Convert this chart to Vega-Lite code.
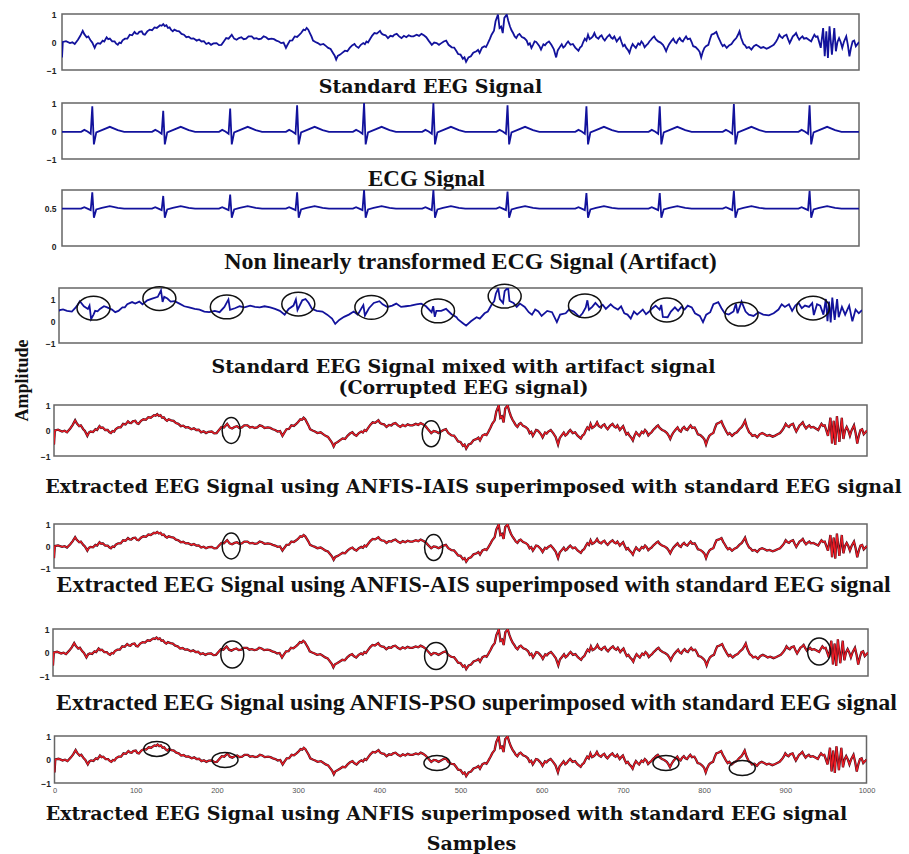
{
"$schema": "https://vega.github.io/schema/vega-lite/v6.json",
"background": "white",
"padding": {"left": 12, "top": 9, "right": 2, "bottom": 0},
"autosize": {"type": "pad"},
"bounds": "flush",
"spacing": 0,
"center": true,
"config": {
  "view": {"stroke": "#666", "strokeWidth": 1.5},
  "axis": {"grid": false, "domain": false, "ticks": false},
  "axisY": {"labelFont": "Liberation Sans", "labelFontWeight": "bold", "labelFontSize": 8.5, "labelColor": "#222", "labelPadding": 4},
  "axisX": {"labelFont": "Liberation Sans", "labelFontSize": 7.5, "labelColor": "#555", "labelPadding": 3, "labelFlush": false}
},
"datasets": {
"eeg": [{"s":0,"v":-0.55},{"s":1,"v":0},{"s":5,"v":0.03},{"s":10,"v":-0.04},{"s":13,"v":-0.01},{"s":16,"v":-0.07},{"s":20,"v":0.08},{"s":23,"v":0.22},{"s":26,"v":0.40},{"s":28,"v":0.28},{"s":31,"v":0.17},{"s":33,"v":0.2},{"s":36,"v":0.05},{"s":38,"v":-0.02},{"s":41,"v":-0.21},{"s":43,"v":-0.08},{"s":45,"v":-0.04},{"s":48,"v":-0.06},{"s":51,"v":0.05},{"s":53,"v":0.02},{"s":56,"v":0.17},{"s":58,"v":0.1},{"s":60,"v":0.12},{"s":63,"v":0.02},{"s":66,"v":0.02},{"s":68,"v":-0.06},{"s":70,"v":-0.10},{"s":72,"v":-0.02},{"s":74,"v":-0.04},{"s":76,"v":0.06},{"s":79,"v":0.12},{"s":82,"v":0.12},{"s":85,"v":0.26},{"s":88,"v":0.24},{"s":91,"v":0.36},{"s":93,"v":0.3},{"s":95,"v":0.29},{"s":97,"v":0.36},{"s":100,"v":0.38},{"s":102,"v":0.28},{"s":104,"v":0.26},{"s":107,"v":0.38},{"s":110,"v":0.44},{"s":113,"v":0.42},{"s":116,"v":0.52},{"s":119,"v":0.5},{"s":123,"v":0.60},{"s":125,"v":0.58},{"s":127,"v":0.64},{"s":129,"v":0.57},{"s":131,"v":0.60},{"s":133,"v":0.5},{"s":135,"v":0.52},{"s":137,"v":0.43},{"s":139,"v":0.38},{"s":141,"v":0.44},{"s":144,"v":0.40},{"s":147,"v":0.38},{"s":150,"v":0.29},{"s":153,"v":0.26},{"s":156,"v":0.17},{"s":159,"v":0.19},{"s":162,"v":0.12},{"s":165,"v":0.13},{"s":169,"v":0.05},{"s":172,"v":0.09},{"s":175,"v":0.02},{"s":178,"v":0.03},{"s":181,"v":-0.07},{"s":184,"v":-0.03},{"s":187,"v":-0.10},{"s":190,"v":-0.05},{"s":194,"v":-0.04},{"s":197,"v":-0.11},{"s":200,"v":-0.10},{"s":203,"v":0.02},{"s":206,"v":0.14},{"s":209,"v":0.12},{"s":213,"v":0.26},{"s":216,"v":0.12},{"s":219,"v":0.08},{"s":222,"v":0.14},{"s":225,"v":0.17},{"s":228,"v":0.1},{"s":231,"v":0.12},{"s":234,"v":0.2},{"s":238,"v":0.20},{"s":241,"v":0.12},{"s":244,"v":0.14},{"s":247,"v":0.1},{"s":250,"v":0.12},{"s":253,"v":0.2},{"s":256,"v":0.17},{"s":259,"v":0.1},{"s":263,"v":0.12},{"s":266,"v":0.1},{"s":269,"v":0.05},{"s":272,"v":0.02},{"s":275,"v":-0.04},{"s":278,"v":-0.02},{"s":281,"v":-0.21},{"s":283,"v":-0.1},{"s":286,"v":0.05},{"s":289,"v":0.06},{"s":292,"v":0.20},{"s":295,"v":0.18},{"s":298,"v":0.26},{"s":300,"v":0.32},{"s":303,"v":0.44},{"s":305,"v":0.42},{"s":307,"v":0.50},{"s":309,"v":0.44},{"s":311,"v":0.32},{"s":313,"v":0.2},{"s":315,"v":0.05},{"s":318,"v":0.0},{"s":321,"v":-0.04},{"s":324,"v":-0.1},{"s":328,"v":-0.07},{"s":331,"v":-0.14},{"s":334,"v":-0.21},{"s":337,"v":-0.25},{"s":340,"v":-0.39},{"s":342,"v":-0.48},{"s":344,"v":-0.63},{"s":346,"v":-0.5},{"s":349,"v":-0.45},{"s":352,"v":-0.38},{"s":355,"v":-0.31},{"s":358,"v":-0.33},{"s":361,"v":-0.21},{"s":364,"v":-0.12},{"s":367,"v":-0.07},{"s":369,"v":-0.15},{"s":372,"v":-0.21},{"s":375,"v":-0.1},{"s":378,"v":-0.04},{"s":380,"v":-0.08},{"s":382,"v":0.02},{"s":384,"v":-0.02},{"s":386,"v":0.08},{"s":389,"v":0.22},{"s":392,"v":0.32},{"s":395,"v":0.3},{"s":399,"v":0.40},{"s":401,"v":0.3},{"s":403,"v":0.26},{"s":406,"v":0.24},{"s":409,"v":0.14},{"s":412,"v":0.22},{"s":415,"v":0.20},{"s":417,"v":0.26},{"s":420,"v":0.29},{"s":423,"v":0.2},{"s":426,"v":0.14},{"s":429,"v":0.22},{"s":432,"v":0.17},{"s":435,"v":0.24},{"s":438,"v":0.20},{"s":441,"v":0.2},{"s":445,"v":0.26},{"s":448,"v":0.22},{"s":451,"v":0.29},{"s":454,"v":0.24},{"s":457,"v":0.17},{"s":460,"v":0.05},{"s":464,"v":-0.10},{"s":467,"v":-0.02},{"s":470,"v":-0.04},{"s":473,"v":-0.1},{"s":476,"v":-0.04},{"s":479,"v":0.02},{"s":482,"v":0.05},{"s":485,"v":-0.1},{"s":489,"v":-0.19},{"s":492,"v":-0.2},{"s":495,"v":-0.33},{"s":497,"v":-0.43},{"s":500,"v":-0.45},{"s":503,"v":-0.60},{"s":505,"v":-0.55},{"s":507,"v":-0.71},{"s":510,"v":-0.55},{"s":513,"v":-0.51},{"s":516,"v":-0.38},{"s":520,"v":-0.33},{"s":522,"v":-0.28},{"s":524,"v":-0.39},{"s":527,"v":-0.2},{"s":530,"v":-0.15},{"s":532,"v":-0.18},{"s":534,"v":-0.07},{"s":537,"v":0.12},{"s":539,"v":0.26},{"s":542,"v":0.40},{"s":544,"v":0.74},{"s":547,"v":0.98},{"s":549,"v":0.50},{"s":551,"v":0.55},{"s":553,"v":0.32},{"s":555,"v":0.86},{"s":558,"v":0.98},{"s":560,"v":0.75},{"s":562,"v":0.56},{"s":564,"v":0.42},{"s":566,"v":0.32},{"s":568,"v":0.2},{"s":570,"v":0.14},{"s":572,"v":0.25},{"s":574,"v":0.29},{"s":577,"v":0.18},{"s":580,"v":0.14},{"s":583,"v":0.05},{"s":585,"v":-0.10},{"s":587,"v":-0.05},{"s":589,"v":-0.21},{"s":591,"v":-0.1},{"s":593,"v":0.02},{"s":595,"v":0.0},{"s":597,"v":-0.07},{"s":599,"v":-0.15},{"s":601,"v":-0.27},{"s":604,"v":-0.08},{"s":606,"v":-0.12},{"s":608,"v":-0.04},{"s":611,"v":0.02},{"s":614,"v":-0.10},{"s":617,"v":-0.25},{"s":620,"v":-0.55},{"s":622,"v":-0.3},{"s":624,"v":-0.21},{"s":627,"v":-0.08},{"s":629,"v":-0.2},{"s":631,"v":-0.15},{"s":633,"v":-0.05},{"s":635,"v":0.02},{"s":638,"v":-0.1},{"s":641,"v":-0.07},{"s":644,"v":-0.2},{"s":648,"v":-0.31},{"s":650,"v":-0.2},{"s":652,"v":-0.15},{"s":654,"v":0.0},{"s":656,"v":0.12},{"s":658,"v":0.05},{"s":660,"v":0.26},{"s":662,"v":0.1},{"s":664,"v":0.14},{"s":666,"v":0.2},{"s":668,"v":0.32},{"s":670,"v":0.18},{"s":673,"v":0.12},{"s":675,"v":0.2},{"s":677,"v":0.24},{"s":679,"v":0.12},{"s":681,"v":0.05},{"s":684,"v":0.18},{"s":687,"v":0.26},{"s":689,"v":0.16},{"s":691,"v":0.12},{"s":693,"v":0.2},{"s":696,"v":0.02},{"s":698,"v":0.1},{"s":700,"v":0.17},{"s":702,"v":0.0},{"s":704,"v":-0.15},{"s":706,"v":-0.1},{"s":708,"v":-0.21},{"s":710,"v":-0.28},{"s":712,"v":-0.39},{"s":714,"v":-0.2},{"s":716,"v":-0.07},{"s":718,"v":-0.15},{"s":720,"v":-0.21},{"s":723,"v":-0.05},{"s":725,"v":-0.1},{"s":727,"v":0.02},{"s":729,"v":-0.05},{"s":731,"v":-0.19},{"s":733,"v":-0.12},{"s":735,"v":-0.07},{"s":737,"v":0.02},{"s":739,"v":0.08},{"s":741,"v":0.15},{"s":743,"v":0.20},{"s":745,"v":0.1},{"s":748,"v":0.02},{"s":751,"v":-0.02},{"s":754,"v":-0.10},{"s":756,"v":-0.2},{"s":758,"v":-0.33},{"s":760,"v":-0.18},{"s":762,"v":-0.07},{"s":765,"v":0.05},{"s":767,"v":0.12},{"s":769,"v":0.0},{"s":771,"v":-0.04},{"s":773,"v":0.08},{"s":775,"v":0.14},{"s":777,"v":0.05},{"s":779,"v":0.02},{"s":781,"v":0.12},{"s":783,"v":0.20},{"s":785,"v":0.1},{"s":788,"v":0.12},{"s":790,"v":0.0},{"s":792,"v":-0.15},{"s":795,"v":-0.18},{"s":798,"v":-0.27},{"s":800,"v":-0.35},{"s":802,"v":-0.55},{"s":804,"v":-0.35},{"s":806,"v":-0.21},{"s":808,"v":-0.15},{"s":811,"v":-0.10},{"s":813,"v":0.1},{"s":815,"v":0.26},{"s":818,"v":0.3},{"s":821,"v":0.36},{"s":823,"v":0.2},{"s":825,"v":0.08},{"s":827,"v":-0.05},{"s":829,"v":-0.15},{"s":831,"v":-0.1},{"s":834,"v":-0.21},{"s":837,"v":-0.12},{"s":840,"v":-0.07},{"s":843,"v":0.05},{"s":846,"v":0.14},{"s":848,"v":0.25},{"s":850,"v":0.38},{"s":852,"v":0.15},{"s":855,"v":-0.07},{"s":857,"v":-0.12},{"s":859,"v":-0.21},{"s":862,"v":-0.18},{"s":865,"v":-0.27},{"s":868,"v":-0.15},{"s":871,"v":-0.10},{"s":874,"v":-0.15},{"s":877,"v":-0.21},{"s":880,"v":-0.18},{"s":884,"v":-0.24},{"s":887,"v":-0.2},{"s":890,"v":-0.15},{"s":893,"v":-0.1},{"s":896,"v":0.02},{"s":898,"v":0.12},{"s":900,"v":0.26},{"s":902,"v":0.18},{"s":904,"v":0.14},{"s":906,"v":0.22},{"s":909,"v":0.26},{"s":911,"v":0.1},{"s":913,"v":-0.04},{"s":915,"v":0.08},{"s":917,"v":0.20},{"s":919,"v":0.25},{"s":921,"v":0.32},{"s":923,"v":0.18},{"s":925,"v":0.08},{"s":927,"v":0.15},{"s":929,"v":0.20},{"s":931,"v":0.12},{"s":934,"v":0.14},{"s":937,"v":0.08},{"s":940,"v":0.02},{"s":942,"v":0.15},{"s":944,"v":0.26},{"s":946,"v":0.18},{"s":948,"v":0.20},{"s":950,"v":0.0},{"s":952,"v":-0.21},{"s":955,"v":0.50},{"s":957,"v":-0.51},{"s":959,"v":0.38},{"s":961,"v":-0.57},{"s":963,"v":0.56},{"s":966,"v":-0.45},{"s":969,"v":0.50},{"s":971,"v":-0.33},{"s":973,"v":0.0},{"s":975,"v":0.14},{"s":977,"v":0.0},{"s":979,"v":-0.21},{"s":981,"v":0.0},{"s":984,"v":0.20},{"s":986,"v":-0.1},{"s":988,"v":-0.51},{"s":990,"v":-0.2},{"s":992,"v":0.02},{"s":994,"v":0.05},{"s":996,"v":-0.15},{"s":999,"v":-0.04},{"s":1000,"v":0.0}],
"cor": [{"s":0,"v":0.45},{"s":1,"v":0.50},{"s":5,"v":0.53},{"s":10,"v":0.46},{"s":16,"v":0.43},{"s":20,"v":0.58},{"s":23,"v":0.72},{"s":26,"v":0.90},{"s":31,"v":0.67},{"s":36,"v":0.55},{"s":38,"v":0.70},{"s":40,"v":0.09},{"s":43,"v":0.29},{"s":45,"v":0.46},{"s":48,"v":0.44},{"s":51,"v":0.55},{"s":56,"v":0.67},{"s":60,"v":0.62},{"s":66,"v":0.52},{"s":70,"v":0.40},{"s":74,"v":0.46},{"s":79,"v":0.62},{"s":82,"v":0.62},{"s":85,"v":0.76},{"s":91,"v":0.86},{"s":95,"v":0.79},{"s":100,"v":0.88},{"s":104,"v":0.76},{"s":110,"v":0.94},{"s":116,"v":1.02},{"s":123,"v":1.10},{"s":127,"v":1.39},{"s":129,"v":0.87},{"s":131,"v":1.10},{"s":135,"v":1.02},{"s":139,"v":0.88},{"s":144,"v":0.90},{"s":150,"v":0.79},{"s":156,"v":0.67},{"s":162,"v":0.62},{"s":169,"v":0.55},{"s":175,"v":0.52},{"s":181,"v":0.43},{"s":187,"v":0.40},{"s":194,"v":0.46},{"s":200,"v":0.40},{"s":206,"v":0.64},{"s":211,"v":0.98},{"s":213,"v":0.51},{"s":219,"v":0.58},{"s":225,"v":0.67},{"s":231,"v":0.62},{"s":238,"v":0.70},{"s":244,"v":0.64},{"s":250,"v":0.62},{"s":256,"v":0.67},{"s":263,"v":0.62},{"s":269,"v":0.55},{"s":275,"v":0.46},{"s":281,"v":0.29},{"s":286,"v":0.55},{"s":292,"v":0.70},{"s":295,"v":0.98},{"s":297,"v":0.50},{"s":303,"v":0.94},{"s":307,"v":1.00},{"s":311,"v":0.82},{"s":315,"v":0.55},{"s":321,"v":0.46},{"s":328,"v":0.43},{"s":334,"v":0.29},{"s":340,"v":0.11},{"s":344,"v":-0.13},{"s":349,"v":0.05},{"s":355,"v":0.19},{"s":361,"v":0.29},{"s":367,"v":0.43},{"s":372,"v":0.29},{"s":379,"v":0.72},{"s":381,"v":0.25},{"s":386,"v":0.58},{"s":392,"v":0.82},{"s":399,"v":0.90},{"s":403,"v":0.76},{"s":409,"v":0.64},{"s":415,"v":0.70},{"s":420,"v":0.79},{"s":426,"v":0.64},{"s":432,"v":0.67},{"s":438,"v":0.70},{"s":445,"v":0.76},{"s":451,"v":0.79},{"s":457,"v":0.67},{"s":464,"v":0.40},{"s":466,"v":0.67},{"s":468,"v":0.19},{"s":470,"v":0.46},{"s":476,"v":0.46},{"s":482,"v":0.55},{"s":489,"v":0.31},{"s":495,"v":0.17},{"s":497,"v":0.07},{"s":503,"v":-0.10},{"s":507,"v":-0.21},{"s":513,"v":-0.01},{"s":520,"v":0.17},{"s":524,"v":0.11},{"s":530,"v":0.35},{"s":534,"v":0.43},{"s":539,"v":0.76},{"s":542,"v":0.90},{"s":544,"v":1.24},{"s":547,"v":1.48},{"s":549,"v":1.00},{"s":553,"v":0.82},{"s":555,"v":1.36},{"s":558,"v":1.48},{"s":559,"v":1.62},{"s":561,"v":0.91},{"s":566,"v":0.82},{"s":570,"v":0.64},{"s":574,"v":0.79},{"s":580,"v":0.64},{"s":585,"v":0.40},{"s":589,"v":0.29},{"s":593,"v":0.52},{"s":597,"v":0.43},{"s":601,"v":0.23},{"s":608,"v":0.46},{"s":614,"v":0.40},{"s":620,"v":-0.05},{"s":624,"v":0.29},{"s":631,"v":0.35},{"s":635,"v":0.52},{"s":641,"v":0.43},{"s":648,"v":0.19},{"s":652,"v":0.35},{"s":656,"v":0.62},{"s":658,"v":0.94},{"s":660,"v":0.51},{"s":664,"v":0.64},{"s":668,"v":0.82},{"s":673,"v":0.62},{"s":677,"v":0.74},{"s":681,"v":0.55},{"s":687,"v":0.76},{"s":691,"v":0.62},{"s":696,"v":0.52},{"s":700,"v":0.67},{"s":704,"v":0.35},{"s":708,"v":0.29},{"s":712,"v":0.11},{"s":716,"v":0.43},{"s":720,"v":0.29},{"s":727,"v":0.52},{"s":731,"v":0.31},{"s":735,"v":0.43},{"s":739,"v":0.58},{"s":743,"v":0.70},{"s":748,"v":0.52},{"s":750,"v":0.73},{"s":752,"v":0.19},{"s":758,"v":0.17},{"s":762,"v":0.43},{"s":767,"v":0.62},{"s":771,"v":0.46},{"s":775,"v":0.64},{"s":779,"v":0.52},{"s":783,"v":0.70},{"s":788,"v":0.62},{"s":792,"v":0.35},{"s":798,"v":0.23},{"s":802,"v":-0.05},{"s":806,"v":0.29},{"s":811,"v":0.40},{"s":815,"v":0.76},{"s":821,"v":0.86},{"s":825,"v":0.58},{"s":829,"v":0.35},{"s":834,"v":0.29},{"s":840,"v":0.43},{"s":843,"v":0.79},{"s":845,"v":0.35},{"s":850,"v":0.88},{"s":855,"v":0.43},{"s":859,"v":0.29},{"s":865,"v":0.23},{"s":871,"v":0.40},{"s":877,"v":0.29},{"s":884,"v":0.26},{"s":890,"v":0.35},{"s":896,"v":0.52},{"s":900,"v":0.76},{"s":904,"v":0.64},{"s":909,"v":0.76},{"s":913,"v":0.46},{"s":917,"v":0.70},{"s":921,"v":0.82},{"s":925,"v":0.58},{"s":929,"v":0.70},{"s":934,"v":0.64},{"s":938,"v":0.81},{"s":940,"v":0.27},{"s":944,"v":0.76},{"s":948,"v":0.70},{"s":952,"v":0.29},{"s":955,"v":1.00},{"s":957,"v":-0.01},{"s":959,"v":0.88},{"s":961,"v":-0.07},{"s":963,"v":1.06},{"s":966,"v":0.05},{"s":969,"v":1.00},{"s":971,"v":0.17},{"s":975,"v":0.64},{"s":979,"v":0.29},{"s":984,"v":0.70},{"s":988,"v":-0.01},{"s":992,"v":0.52},{"s":996,"v":0.35},{"s":999,"v":0.46},{"s":1000,"v":0.50}],
"ecg": [{"s":0,"e":-0.03,"a":0.5},
{"s":24,"e":-0.03,"a":0.5},{"s":28,"e":0.04,"a":0.52},{"s":32,"e":-0.02,"a":0.5},{"s":36,"e":-0.1,"a":0.48},{"s":38,"e":0.88,"a":0.72},{"s":40,"e":-0.48,"a":0.38},{"s":43,"e":-0.05,"a":0.49},{"s":50,"e":0.03,"a":0.51},{"s":60,"e":0.15,"a":0.535},{"s":70,"e":0.03,"a":0.51},{"s":78,"e":-0.03,"a":0.5},
{"s":113,"e":-0.03,"a":0.5},{"s":117,"e":0.04,"a":0.52},{"s":121,"e":-0.02,"a":0.5},{"s":125,"e":-0.1,"a":0.48},{"s":127,"e":0.72,"a":0.67},{"s":129,"e":-0.48,"a":0.38},{"s":132,"e":-0.05,"a":0.49},{"s":139,"e":0.03,"a":0.51},{"s":149,"e":0.15,"a":0.535},{"s":159,"e":0.03,"a":0.51},{"s":167,"e":-0.03,"a":0.5},
{"s":197,"e":-0.03,"a":0.5},{"s":201,"e":0.04,"a":0.52},{"s":205,"e":-0.02,"a":0.5},{"s":209,"e":-0.1,"a":0.48},{"s":211,"e":0.80,"a":0.69},{"s":213,"e":-0.48,"a":0.38},{"s":216,"e":-0.05,"a":0.49},{"s":223,"e":0.03,"a":0.51},{"s":233,"e":0.15,"a":0.535},{"s":243,"e":0.03,"a":0.51},{"s":251,"e":-0.03,"a":0.5},
{"s":281,"e":-0.03,"a":0.5},{"s":285,"e":0.04,"a":0.52},{"s":289,"e":-0.02,"a":0.5},{"s":293,"e":-0.1,"a":0.48},{"s":295,"e":0.92,"a":0.72},{"s":297,"e":-0.48,"a":0.38},{"s":300,"e":-0.05,"a":0.49},{"s":307,"e":0.03,"a":0.51},{"s":317,"e":0.15,"a":0.535},{"s":327,"e":0.03,"a":0.51},{"s":335,"e":-0.03,"a":0.5},
{"s":365,"e":-0.03,"a":0.5},{"s":369,"e":0.04,"a":0.52},{"s":373,"e":-0.02,"a":0.5},{"s":377,"e":-0.1,"a":0.48},{"s":379,"e":1.0,"a":0.75},{"s":381,"e":-0.48,"a":0.38},{"s":384,"e":-0.05,"a":0.49},{"s":391,"e":0.03,"a":0.51},{"s":401,"e":0.15,"a":0.535},{"s":411,"e":0.03,"a":0.51},{"s":419,"e":-0.03,"a":0.5},
{"s":452,"e":-0.03,"a":0.5},{"s":456,"e":0.04,"a":0.52},{"s":460,"e":-0.02,"a":0.5},{"s":464,"e":-0.1,"a":0.48},{"s":466,"e":1.0,"a":0.75},{"s":468,"e":-0.48,"a":0.38},{"s":471,"e":-0.05,"a":0.49},{"s":478,"e":0.03,"a":0.51},{"s":488,"e":0.15,"a":0.535},{"s":498,"e":0.03,"a":0.51},{"s":506,"e":-0.03,"a":0.5},
{"s":545,"e":-0.03,"a":0.5},{"s":549,"e":0.04,"a":0.52},{"s":553,"e":-0.02,"a":0.5},{"s":557,"e":-0.1,"a":0.48},{"s":559,"e":0.92,"a":0.73},{"s":561,"e":-0.48,"a":0.38},{"s":564,"e":-0.05,"a":0.49},{"s":571,"e":0.03,"a":0.51},{"s":581,"e":0.15,"a":0.535},{"s":591,"e":0.03,"a":0.51},{"s":599,"e":-0.03,"a":0.5},
{"s":644,"e":-0.03,"a":0.5},{"s":648,"e":0.04,"a":0.52},{"s":652,"e":-0.02,"a":0.5},{"s":656,"e":-0.1,"a":0.48},{"s":658,"e":0.88,"a":0.71},{"s":660,"e":-0.48,"a":0.38},{"s":663,"e":-0.05,"a":0.49},{"s":670,"e":0.03,"a":0.51},{"s":680,"e":0.15,"a":0.535},{"s":690,"e":0.03,"a":0.51},{"s":698,"e":-0.03,"a":0.5},
{"s":736,"e":-0.03,"a":0.5},{"s":740,"e":0.04,"a":0.52},{"s":744,"e":-0.02,"a":0.5},{"s":748,"e":-0.1,"a":0.48},{"s":750,"e":0.88,"a":0.71},{"s":752,"e":-0.48,"a":0.38},{"s":755,"e":-0.05,"a":0.49},{"s":762,"e":0.03,"a":0.51},{"s":772,"e":0.15,"a":0.535},{"s":782,"e":0.03,"a":0.51},{"s":790,"e":-0.03,"a":0.5},
{"s":829,"e":-0.03,"a":0.5},{"s":833,"e":0.04,"a":0.52},{"s":837,"e":-0.02,"a":0.5},{"s":841,"e":-0.1,"a":0.48},{"s":843,"e":0.96,"a":0.74},{"s":845,"e":-0.48,"a":0.38},{"s":848,"e":-0.05,"a":0.49},{"s":855,"e":0.03,"a":0.51},{"s":865,"e":0.15,"a":0.535},{"s":875,"e":0.03,"a":0.51},{"s":883,"e":-0.03,"a":0.5},
{"s":924,"e":-0.03,"a":0.5},{"s":928,"e":0.04,"a":0.52},{"s":932,"e":-0.02,"a":0.5},{"s":936,"e":-0.1,"a":0.48},{"s":938,"e":0.92,"a":0.74},{"s":940,"e":-0.48,"a":0.38},{"s":943,"e":-0.05,"a":0.49},{"s":950,"e":0.03,"a":0.51},{"s":960,"e":0.15,"a":0.535},{"s":970,"e":0.03,"a":0.51},{"s":978,"e":-0.03,"a":0.5},
{"s":1000,"e":-0.03,"a":0.5}],
"ell": [{"p":4,"s":43,"v":0.58},{"p":4,"s":125,"v":1.02},{"p":4,"s":209,"v":0.64},{"p":4,"s":298,"v":0.77},{"p":4,"s":389,"v":0.62},{"p":4,"s":472,"v":0.46},{"p":4,"s":555,"v":1.13},{"p":4,"s":655,"v":0.69},{"p":4,"s":757,"v":0.5},{"p":4,"s":850,"v":0.31},{"p":4,"s":939,"v":0.59},
{"p":5,"s":218,"v":0.0},{"p":5,"s":464,"v":-0.13},
{"p":6,"s":218,"v":0.0},{"p":6,"s":467,"v":-0.07},
{"p":7,"s":220,"v":-0.08},{"p":7,"s":470,"v":-0.15},{"p":7,"s":940,"v":0.04},
{"p":8,"s":126,"v":0.45},{"p":8,"s":210,"v":-0.02},{"p":8,"s":471,"v":-0.15},{"p":8,"s":753,"v":-0.15},{"p":8,"s":847,"v":-0.36}]
},
"vconcat": [
{"width": 797, "height": 56, "data": {"name": "eeg"},
 "mark": {"type": "line", "color": "#12129c", "strokeWidth": 1.8, "clip": true},
 "encoding": {"x": {"field": "s", "type": "quantitative", "scale": {"domain": [0, 1000], "nice": false}, "axis": null},
  "y": {"field": "v", "type": "quantitative", "scale": {"domain": [-1, 1], "nice": false}, "axis": {"values": [-1, 0, 1], "format": "~g", "title": null, "labelPadding": 6}}}},
{"width": 700, "height": 33, "view": {"stroke": null}, "data": {"values": [{"t": "Standard EEG Signal"}]},
 "mark": {"type": "text", "font": "DejaVu Serif", "fontWeight": "bold", "fontSize": 19, "color": "#111", "baseline": "middle", "align": "center", "dx": -30},
 "encoding": {"text": {"field": "t"}}},
{"width": 797, "height": 56, "data": {"name": "ecg"},
 "mark": {"type": "line", "color": "#12129c", "strokeWidth": 1.8, "clip": true},
 "encoding": {"x": {"field": "s", "type": "quantitative", "scale": {"domain": [0, 1000], "nice": false}, "axis": null},
  "y": {"field": "e", "type": "quantitative", "scale": {"domain": [-1, 1], "nice": false}, "axis": {"values": [-1, 0, 1], "format": "~g", "title": null, "labelPadding": 6}}}},
{"width": 700, "height": 31, "view": {"stroke": null}, "data": {"values": [{"t": "ECG Signal"}]},
 "mark": {"type": "text", "font": "Liberation Serif", "fontWeight": "bold", "fontSize": 23, "color": "#111", "baseline": "middle", "align": "center", "dx": -34, "dy": 4},
 "encoding": {"text": {"field": "t"}}},
{"width": 797, "height": 56, "data": {"name": "ecg"},
 "mark": {"type": "line", "color": "#12129c", "strokeWidth": 1.8, "clip": true},
 "encoding": {"x": {"field": "s", "type": "quantitative", "scale": {"domain": [0, 1000], "nice": false}, "axis": null},
  "y": {"field": "a", "type": "quantitative", "scale": {"domain": [0, 0.75], "nice": false}, "axis": {"values": [0, 0.5], "format": "~g", "title": null, "labelPadding": 6}}}},
{"width": 700, "height": 42, "view": {"stroke": null}, "data": {"values": [{"t": "Non linearly transformed ECG Signal (Artifact)"}]},
 "mark": {"type": "text", "font": "Liberation Serif", "fontWeight": "bold", "fontSize": 24, "color": "#111", "baseline": "middle", "align": "center", "dx": 10, "dy": -5},
 "encoding": {"text": {"field": "t"}}},
{"width": 803, "height": 55,
 "encoding": {"x": {"field": "s", "type": "quantitative", "scale": {"domain": [0, 1000], "nice": false}, "axis": null},
  "y": {"field": "v", "type": "quantitative", "scale": {"domain": [-1, 1.5], "nice": false}, "axis": {"values": [-1, 0, 1], "format": "~g", "title": "Amplitude", "titleX": -37, "titleY": 92, "titleAngle": -90, "titleAlign": "center", "titleBaseline": "middle", "titleFont": "Liberation Serif", "titleFontSize": 18, "titleFontWeight": "bold", "titleColor": "#111"}}},
 "layer": [
  {"data": {"name": "cor"}, "mark": {"type": "line", "color": "#12129c", "strokeWidth": 1.8, "clip": true}},
  {"data": {"name": "ell"}, "transform": [{"filter": "datum.p == 4"}], "mark": {"type": "point", "shape": "M-1,0A1,0.72,0,1,1,1,0A1,0.72,0,1,1,-1,0Z", "size": 1089, "filled": false, "color": "#111", "strokeWidth": 1.5, "opacity": 1}}
 ]},
{"width": 700, "height": 62, "view": {"stroke": null}, "data": {"values": [{"t": "Standard EEG Signal mixed with artifact signal\n(Corrupted EEG signal)"}]},
 "mark": {"type": "text", "font": "DejaVu Serif", "fontWeight": "bold", "fontSize": 19, "color": "#111", "baseline": "middle", "align": "center", "lineBreak": "\n", "lineHeight": 21, "dx": 3, "dy": -7},
 "encoding": {"text": {"field": "t"}}},
{"width": 813, "height": 51,
 "encoding": {"x": {"field": "s", "type": "quantitative", "scale": {"domain": [0, 1000], "nice": false}, "axis": null},
  "y": {"field": "v", "type": "quantitative", "scale": {"domain": [-1, 1], "nice": false}, "axis": {"values": [-1, 0, 1], "format": "~g", "title": null}}},
 "layer": [
  {"data": {"name": "eeg"}, "mark": {"type": "line", "color": "#3d0f1f", "strokeWidth": 2.3, "clip": true}},
  {"data": {"name": "eeg"}, "mark": {"type": "line", "color": "#ee1c24", "strokeWidth": 1.3, "clip": true}},
  {"data": {"name": "ell"}, "transform": [{"filter": "datum.p == 5"}], "mark": {"type": "point", "shape": "M-0.7,0A0.7,1,0,1,1,0.7,0A0.7,1,0,1,1,-0.7,0Z", "size": 676, "filled": false, "color": "#111", "strokeWidth": 1.5, "opacity": 1}}
 ]},
{"width": 700, "height": 68, "view": {"stroke": null}, "data": {"values": [{"t": "Extracted EEG Signal using ANFIS-IAIS superimposed with standard  EEG signal"}]},
 "mark": {"type": "text", "font": "DejaVu Serif", "fontWeight": "bold", "fontSize": 19, "color": "#111", "baseline": "middle", "align": "center", "dx": 13, "dy": -3},
 "encoding": {"text": {"field": "t"}}},
{"width": 813, "height": 44,
 "encoding": {"x": {"field": "s", "type": "quantitative", "scale": {"domain": [0, 1000], "nice": false}, "axis": null},
  "y": {"field": "v", "type": "quantitative", "scale": {"domain": [-1, 1], "nice": false}, "axis": {"values": [-1, 0, 1], "format": "~g", "title": null}}},
 "layer": [
  {"data": {"name": "eeg"}, "mark": {"type": "line", "color": "#3d0f1f", "strokeWidth": 2.3, "clip": true}},
  {"data": {"name": "eeg"}, "mark": {"type": "line", "color": "#ee1c24", "strokeWidth": 1.3, "clip": true}},
  {"data": {"name": "ell"}, "transform": [{"filter": "datum.p == 6"}], "mark": {"type": "point", "shape": "M-0.7,0A0.7,1,0,1,1,0.7,0A0.7,1,0,1,1,-0.7,0Z", "size": 676, "filled": false, "color": "#111", "strokeWidth": 1.5, "opacity": 1}}
 ]},
{"width": 700, "height": 61, "view": {"stroke": null}, "data": {"values": [{"t": "Extracted EEG Signal using ANFIS-AIS superimposed with standard  EEG signal"}]},
 "mark": {"type": "text", "font": "Liberation Serif", "fontWeight": "bold", "fontSize": 24, "color": "#111", "baseline": "middle", "align": "center", "dx": 13, "dy": -14},
 "encoding": {"text": {"field": "t"}}},
{"width": 815, "height": 47,
 "encoding": {"x": {"field": "s", "type": "quantitative", "scale": {"domain": [0, 1000], "nice": false}, "axis": null},
  "y": {"field": "v", "type": "quantitative", "scale": {"domain": [-1, 1], "nice": false}, "axis": {"values": [-1, 0, 1], "format": "~g", "title": null}}},
 "layer": [
  {"data": {"name": "eeg"}, "mark": {"type": "line", "color": "#3d0f1f", "strokeWidth": 2.3, "clip": true}},
  {"data": {"name": "eeg"}, "mark": {"type": "line", "color": "#ee1c24", "strokeWidth": 1.3, "clip": true}},
  {"data": {"name": "ell"}, "transform": [{"filter": "datum.p == 7"}], "mark": {"type": "point", "shape": "M-0.85,0A0.85,1,0,1,1,0.85,0A0.85,1,0,1,1,-0.85,0Z", "size": 729, "filled": false, "color": "#111", "strokeWidth": 1.5, "opacity": 1}}
 ]},
{"width": 700, "height": 60, "view": {"stroke": null}, "data": {"values": [{"t": "Extracted EEG Signal using ANFIS-PSO superimposed with standard  EEG signal"}]},
 "mark": {"type": "text", "font": "Liberation Serif", "fontWeight": "bold", "fontSize": 24, "color": "#111", "baseline": "middle", "align": "center", "dx": 16, "dy": -3},
 "encoding": {"text": {"field": "t"}}},
{"width": 812, "height": 47,
 "encoding": {"x": {"field": "s", "type": "quantitative", "scale": {"domain": [0, 1000], "nice": false}, "axis": {"values": [0, 100, 200, 300, 400, 500, 600, 700, 800, 900, 1000], "format": "d", "title": null}},
  "y": {"field": "v", "type": "quantitative", "scale": {"domain": [-1, 1], "nice": false}, "axis": {"values": [-1, 0, 1], "format": "~g", "title": null}}},
 "layer": [
  {"data": {"name": "eeg"}, "mark": {"type": "line", "color": "#3d0f1f", "strokeWidth": 2.3, "clip": true}},
  {"data": {"name": "eeg"}, "mark": {"type": "line", "color": "#ee1c24", "strokeWidth": 1.3, "clip": true}},
  {"data": {"name": "ell"}, "transform": [{"filter": "datum.p == 8"}], "mark": {"type": "point", "shape": "M-1,0A1,0.58,0,1,1,1,0A1,0.58,0,1,1,-1,0Z", "size": 676, "filled": false, "color": "#111", "strokeWidth": 1.5, "opacity": 1}}
 ]},
{"width": 700, "height": 70, "view": {"stroke": null},
 "layer": [
  {"data": {"values": [{"t": "Extracted EEG Signal using ANFIS superimposed with standard  EEG signal"}]},
   "mark": {"type": "text", "font": "DejaVu Serif", "fontWeight": "bold", "fontSize": 19, "color": "#111", "baseline": "middle", "align": "center", "dx": -14, "dy": -4},
   "encoding": {"text": {"field": "t"}}},
  {"data": {"values": [{"t": "Samples"}]},
   "mark": {"type": "text", "font": "DejaVu Serif", "fontWeight": "bold", "fontSize": 19, "color": "#111", "baseline": "middle", "align": "center", "dx": 11, "dy": 26},
   "encoding": {"text": {"field": "t"}}}
 ]}
]
}
